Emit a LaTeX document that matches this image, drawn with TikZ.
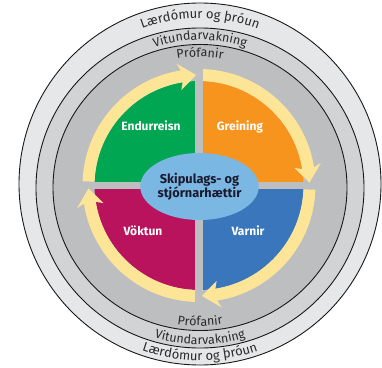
\documentclass[tikz,border=0pt]{standalone}
\usepackage{fontspec}
\setmainfont{Fira Sans}
\usetikzlibrary{decorations.text,shapes.geometric}
\definecolor{ringA}{HTML}{E6E7E8}
\definecolor{ringB}{HTML}{D1D3D4}
\definecolor{ringC}{HTML}{BCBEC0}
\definecolor{qgreen}{HTML}{00A651}
\definecolor{qorange}{HTML}{F7941D}
\definecolor{qblue}{HTML}{3A76BB}
\definecolor{qmagenta}{HTML}{B8135C}
\definecolor{arrowyellow}{HTML}{FDE597}
\definecolor{hubblue}{HTML}{7AB7E3}
\definecolor{hubtext}{HTML}{1A1A2E}
\definecolor{ringtext}{HTML}{2B2B2B}
\newcommand{\ringfont}{\fontsize{12.5}{14}\selectfont\color{ringtext}}
\newcommand{\outerringfont}{\fontsize{13}{14}\selectfont\color{ringtext}}
% #1 tail angle, #2 tip angle (clockwise arrow)
\newcommand{\cyclearrow}[2]{%
  \fill[arrowyellow] (#1:116.5) arc[start angle=#1, end angle={#2+7.5}, radius=116.5]
    -- ({#2+9}:124) -- (#2:110.5) -- ({#2+9}:97) -- ({#2+7.5}:104.5)
    arc[start angle={#2+7.5}, end angle=#1, radius=104.5] -- cycle;}
\tikzset{
  ringline/.style={draw=black!90, line width=0.9pt},
  quadlabel/.style={text=white, font=\bfseries\fontsize{12}{14}\selectfont, anchor=base, inner sep=0pt},
  hubnode/.style={ellipse, fill=hubblue, minimum width=100pt, minimum height=67pt, inner sep=0pt,
    align=center, text=hubtext, font=\bfseries\fontsize{12.8}{14}\selectfont},
  ringlabel/.style={decorate, decoration={text along path, text align=center, text={#1}}}
}
\begin{document}
\begin{tikzpicture}[x=1pt,y=1pt]
\useasboundingbox (0,0) rectangle (382,367);
\fill[white] (0,0) rectangle (382,367);
% rings
\coordinate (O1) at (200,183);
\coordinate (O2) at (200,179);
\coordinate (O3) at (200,179.5);
\coordinate (C) at (199,181.5);
\fill[ringA] (O1) circle[radius=181];
\draw[ringline] (O1) circle[radius=181];
\fill[ringB] (O2) ellipse[x radius=164, y radius=160];
\draw[ringline] (O2) ellipse[x radius=164, y radius=160];
\fill[ringC] (O3) ellipse[x radius=147, y radius=143];
\draw[ringline] (O3) ellipse[x radius=147, y radius=143];
% quadrants and arrows
\begin{scope}[shift={(C)}]
  \fill[qgreen] (0,0) -- (180:104.5) arc[start angle=180, end angle=90, radius=104.5] -- cycle;
  \fill[qorange] (0,0) -- (90:104.5) arc[start angle=90, end angle=0, radius=104.5] -- cycle;
  \fill[qblue] (0,0) -- (0:104.5) arc[start angle=0, end angle=-90, radius=104.5] -- cycle;
  \fill[qmagenta] (0,0) -- (-90:104.5) arc[start angle=-90, end angle=-180, radius=104.5] -- cycle;
  \fill[ringC] (-4,-112) rectangle (4,112);
  \fill[ringC] (-112,-3.5) rectangle (112,3.5);
  \cyclearrow{177.9}{91.5}
  \cyclearrow{87.9}{1.5}
  \cyclearrow{-2.1}{-88.5}
  \cyclearrow{-92.1}{-178.5}
\end{scope}
% hub
\node[hubnode] (hub) at (199.5,180.5) {Skipulags- og\\stjórnarhættir};
% quadrant labels
\node[quadlabel] (endurreisn) at (151,236) {Endurreisn};
\node[quadlabel] (greining) at (240,236) {Greining};
\node[quadlabel] (voktun) at (143,132) {Vöktun};
\node[quadlabel] (varnir) at (248,132) {Varnir};
% ring texts
\begin{scope}[shift={(O1)}]
  \path[ringlabel={|\outerringfont|Lærdómur og þróun}] (180:165.5) arc[start angle=180, end angle=0, radius=165.5];
  \path[ringlabel={|\outerringfont|Lærdómur og þróun}] (180:176.5) arc[start angle=180, end angle=360, radius=176.5];
\end{scope}
\begin{scope}[shift={(O2)}]
  \path[ringlabel={|\ringfont|Vitundarvakning}] (180:148) arc[start angle=180, end angle=0, radius=148];
  \path[ringlabel={|\ringfont|Vitundarvakning}] (180:156.5) arc[start angle=180, end angle=360, radius=156.5];
\end{scope}
\begin{scope}[shift={(O3)}]
  \path[ringlabel={|\ringfont|Prófanir}] (180:130.5) arc[start angle=180, end angle=0, radius=130.5];
  \path[ringlabel={|\ringfont|Prófanir}] (180:138.5) arc[start angle=180, end angle=360, radius=138.5];
\end{scope}
\end{tikzpicture}
\end{document}
